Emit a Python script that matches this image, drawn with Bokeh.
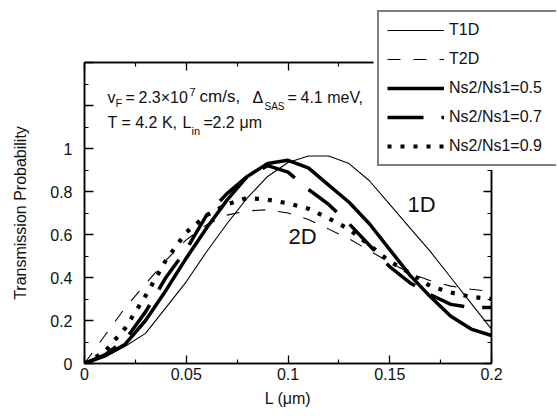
from bokeh.plotting import figure
from bokeh.models import (Range1d, LinearAxis, FixedTicker, Legend, LegendItem,
                          Label, CustomJSTickFormatter)
from bokeh.embed import file_html
from bokeh.resources import INLINE

# ---- data ----
L_um = [0.0, 0.01, 0.02, 0.03, 0.04, 0.05, 0.06, 0.07, 0.08, 0.09, 0.10,
        0.11, 0.12, 0.13, 0.14, 0.15, 0.16, 0.17, 0.18, 0.19, 0.20]
T1D = [0.0, 0.03, 0.08, 0.14, 0.26, 0.38, 0.52, 0.65, 0.77, 0.87, 0.935,
       0.965, 0.965, 0.93, 0.85, 0.74, 0.63, 0.52, 0.40, 0.28, 0.16]
T2D = [0.0, 0.13, 0.26, 0.37, 0.48, 0.575, 0.645, 0.69, 0.71, 0.715, 0.70,
       0.67, 0.625, 0.58, 0.525, 0.47, 0.42, 0.385, 0.36, 0.345, 0.335]
NS_05 = [0.0, 0.035, 0.09, 0.20, 0.34, 0.49, 0.63, 0.76, 0.87, 0.93, 0.945,
         0.91, 0.83, 0.75, 0.65, 0.53, 0.41, 0.31, 0.22, 0.16, 0.13]
NS_07 = [0.0, 0.04, 0.11, 0.24, 0.40, 0.53, 0.69, 0.79, 0.87, 0.92, 0.89,
         0.81, 0.74, 0.65, 0.55, 0.45, 0.375, 0.32, 0.275, 0.26, 0.26]
NS_09 = [0.0, 0.055, 0.165, 0.315, 0.48, 0.61, 0.69, 0.74, 0.77, 0.762, 0.745,
         0.72, 0.675, 0.625, 0.55, 0.475, 0.42, 0.36, 0.33, 0.31, 0.30]

series = [T1D, T2D, NS_05, NS_07, NS_09]
series_labels = ["T1D", "T2D", "Ns2/Ns1=0.5", "Ns2/Ns1=0.7", "Ns2/Ns1=0.9"]

x_major = [0.0, 0.05, 0.1, 0.15, 0.2]
x_minor = [0.025, 0.075, 0.125, 0.175]
y_major = [0.0, 0.2, 0.4, 0.6, 0.8, 1.0, 1.2, 1.4]
y_minor = [0.1, 0.3, 0.5, 0.7, 0.9, 1.1, 1.3]

FONT = "Liberation Sans"
INK = "#111111"

STYLES = [dict(line_width=1.1),
          dict(line_width=1.1, line_dash="13 13"),
          dict(line_width=3.5),
          dict(line_width=3.5, line_dash="36 18"),
          dict(line_width=4.2, line_dash="4 9")]

p = figure(width=557, height=415, output_backend="svg", toolbar_location=None,
           x_range=Range1d(0, 0.2), y_range=Range1d(0, 1.4),
           min_border_left=84, min_border_right=66, min_border_top=62,
           min_border_bottom=52, x_axis_label="L (\u03bcm)",
           y_axis_label="Transmission Probability")
p.xgrid.visible = False
p.ygrid.visible = False
p.outline_line_color = "black"
p.outline_line_width = 1.5
p.background_fill_color = "white"
p.border_fill_color = "white"

fmt_x = CustomJSTickFormatter(code="return String(+tick.toFixed(3));")
fmt_y = CustomJSTickFormatter(code="return tick > 1.05 ? '' : String(+tick.toFixed(2));")
blank = CustomJSTickFormatter(code="return '';")


def style_axis(ax, ticker, fmt, major_len=8):
    ax.ticker = ticker
    ax.formatter = fmt
    ax.axis_line_color = "black"
    ax.axis_line_width = 1.5
    ax.major_tick_in = major_len
    ax.major_tick_out = 0
    ax.minor_tick_in = 4
    ax.minor_tick_out = 0
    ax.major_tick_line_width = 1.3
    ax.minor_tick_line_width = 1.2
    ax.major_label_text_font = FONT
    ax.major_label_text_font_size = "16px"
    ax.major_label_text_color = INK
    ax.axis_label_text_font = FONT
    ax.axis_label_text_font_size = "16px"
    ax.axis_label_text_font_style = "normal"
    ax.axis_label_text_color = INK


style_axis(p.xaxis[0], FixedTicker(ticks=x_major, minor_ticks=x_minor), fmt_x)
style_axis(p.yaxis[0], FixedTicker(ticks=y_major, minor_ticks=y_minor), fmt_y, 9)
p.xaxis[0].major_label_standoff = 4
p.xaxis[0].axis_label_standoff = 7
p.yaxis[0].major_label_standoff = 12
p.yaxis[0].axis_label_standoff = 18

top = LinearAxis()
style_axis(top, FixedTicker(ticks=x_major, minor_ticks=x_minor), blank)
top.major_label_text_font_size = "0px"
p.add_layout(top, "above")
right = LinearAxis()
style_axis(right, FixedTicker(ticks=y_major, minor_ticks=y_minor), blank)
right.major_label_text_font_size = "0px"
p.add_layout(right, "right")

for ys, st in zip(series, STYLES):
    p.line(L_um, ys, line_color="black", line_join="round", **st)


# annotation positions given in reference pixels (left edge, baseline)
def dx(px):
    return (px - 84) / 407 * 0.2


def dy(py):
    return (363 - py) / 215


def put(text, px, base, size=16):
    p.add_layout(Label(x=dx(px), y=dy(base - 0.33 * size), text=text,
                       text_font=FONT, text_font_size=f"{size}px",
                       text_color=INK, text_baseline="middle",
                       text_align="left"))


put("v", 107, 102)
put("F", 115, 106, 11)
put("=", 125, 102)
put("2.3\u00d710", 138, 102)
put("7", 189, 95, 11)
put("cm/s,", 199, 102, 17)
put("\u0394", 252, 102)
put("SAS", 264, 109, 10)
put("=", 287, 102)
put("4.1 meV,", 300, 102)
put("T = 4.2 K,", 107, 127)
put("L", 182, 127)
put("in", 191, 134, 11)
put("=", 203, 127)
put("2.2", 212, 127)
put("\u03bcm", 239, 127)
put("1D", 407, 211, 22)
put("2D", 288, 243, 22)

# ---- legend: a small separate canvas laid over the top-right corner ----
leg_fig = figure(width=183, height=164, output_backend="svg", toolbar_location=None,
                 x_range=Range1d(5, 6), y_range=Range1d(5, 6),
                 x_axis_location=None, y_axis_location=None, min_border=0,
                 min_border_left=0, min_border_right=0, min_border_top=0,
                 min_border_bottom=0,
                 styles={"position": "absolute", "left": "373px", "top": "6px",
                         "z-index": "10"})
leg_fig.outline_line_color = None
leg_fig.xgrid.visible = False
leg_fig.ygrid.visible = False
leg_fig.background_fill_color = "white"
leg_fig.border_fill_color = "white"

items = []
for lab, ys, st in zip(series_labels, series, STYLES):
    r = leg_fig.line(L_um, ys, line_color="black", **st)
    items.append(LegendItem(label=lab, renderers=[r]))

legend = Legend(items=items, location=(4, 4), glyph_width=57, glyph_height=20,
                label_height=20, label_width=100, label_standoff=5, spacing=9,
                padding=8, margin=0, border_line_color="black",
                border_line_width=2, background_fill_color="white",
                background_fill_alpha=1.0, label_text_font=FONT,
                label_text_font_size="16px", label_text_color=INK)
leg_fig.add_layout(legend)

open("out.html", "w").write(file_html([p, leg_fig], INLINE))
